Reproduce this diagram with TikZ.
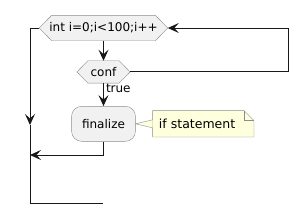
\documentclass[tikz,border=0pt]{standalone}
\usepackage{fontspec}
\setmainfont{DejaVu Sans}
\usetikzlibrary{arrows.meta,positioning}
\definecolor{actfill}{HTML}{F1F1F1}
\definecolor{actline}{HTML}{8C8C8C}
\definecolor{notefill}{HTML}{FEFFDD}
\definecolor{flowline}{HTML}{181818}
\tikzset{
  hexbox/.style={rectangle, inner xsep=1pt, inner ysep=0pt,
    font=\fontsize{12}{14}\selectfont},
  hexline/.style={draw=actline, fill=actfill},
  actbox/.style={rectangle, rounded corners=10pt, draw=actline, fill=actfill,
    minimum height=35pt, inner xsep=10.5pt, font=\fontsize{12}{14}\selectfont},
  notetext/.style={text width=89pt, align=left, inner xsep=6pt, minimum height=26pt,
    font=\fontsize{12.5}{14}\selectfont},
  flow/.style={draw=flowline, line width=1pt},
  tip/.style={-{Stealth[length=11pt,width=10pt,inset=4.5pt]}}
}
\begin{document}
\begin{tikzpicture}[x=1pt,y=1pt]
    \useasboundingbox (0,0) rectangle (308,-223);
    \node[hexbox, minimum height=25pt, inner xsep=-2.5pt] (loophead) at (103.5,-28) {int i=0;i<100;i++};
    \node[hexbox, minimum height=22pt, inner xsep=2.5pt, below=20pt of loophead] (cond) {conf};
    % hexagon outlines
    \draw[hexline] ([xshift=-12.5pt]loophead.west) coordinate (loopL)
        -- (loophead.north west) -- (loophead.north east)
        -- ([xshift=12.5pt]loophead.east) coordinate (loopR)
        -- (loophead.south east) -- (loophead.south west) -- cycle;
    \draw[hexline] ([xshift=-11pt]cond.west) coordinate (condL)
        -- (cond.north west) -- (cond.north east)
        -- ([xshift=11pt]cond.east) coordinate (condR)
        -- (cond.south east) -- (cond.south west) -- cycle;
    \node[hexbox, minimum height=25pt, inner xsep=-2.5pt] at (loophead) {int i=0;i<100;i++};
    \node[hexbox, minimum height=22pt, inner xsep=2.5pt] at (cond) {conf};
    \node[actbox, below=23pt of cond] (finalize) {finalize};
    \node[notetext, right=17pt of finalize] (note) {if statement};
    % note with folded corner
    \draw[actline, fill=notefill] (note.south west) -- (note.north west)
        -- ([xshift=-10pt]note.north east) -- ([yshift=-10pt]note.north east)
        -- (note.south east) -- cycle;
    \draw[actline] ([xshift=-10pt]note.north east) |- ([yshift=-10pt]note.north east);
    \draw[actline, fill=notefill] ([yshift=4pt]note.west) -- (finalize.east)
        -- ([yshift=-4pt]note.west);
    \node[notetext] at (note) {if statement};
    % loop lines
    \coordinate (leftdown) at (30,-125);
    \coordinate (leftend) at (30,-203);
    \coordinate (rightx) at (288,0);
    \coordinate (join) at (30,-155);
    \draw[flow, tip] (loophead.south) -- (cond.north);
    \draw[flow, tip] (cond.south) -- (finalize.north)
        node[pos=0.25, right, inner xsep=2pt, font=\fontsize{12}{14}\selectfont] {true};
    \draw[flow, tip] (condR) -- (condR -| rightx) |- (loopR);
    \draw[flow, tip] (loopL) -| (leftdown);
    \draw[flow] (leftdown) -- (leftend) -- ++(73,0);
    \draw[flow, tip] (finalize.south) |- (join);
\end{tikzpicture}
\end{document}
